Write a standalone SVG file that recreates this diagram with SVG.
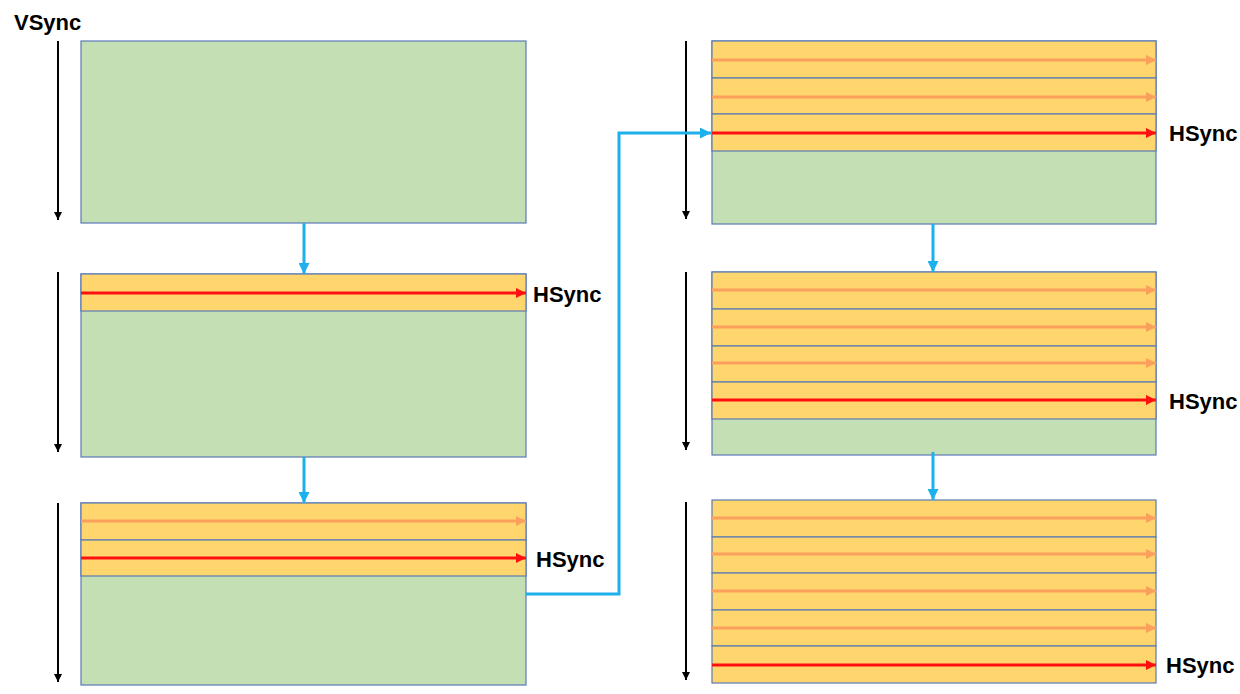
<svg xmlns="http://www.w3.org/2000/svg" width="1240" height="694" viewBox="0 0 1240 694">
<defs>
<style>
.g{fill:#C5DFB4;stroke:#5B7BB5;stroke-width:1.2}
.y{fill:#FED66D;stroke:#5B7BB5;stroke-width:1.2}
.r{stroke:#FF1010;stroke-width:3;fill:none}
.o{stroke:#FBA05C;stroke-width:3;fill:none}
.b{stroke:#1CB0EC;stroke-width:3;fill:none}
.k{stroke:#000;stroke-width:2;fill:none}
.t{font-family:"Liberation Sans",Arial,sans-serif;font-weight:bold;font-size:22px;fill:#000}
</style>
<marker id="mr" markerWidth="10" markerHeight="10" refX="10" refY="5" orient="auto" markerUnits="userSpaceOnUse" viewBox="0 0 10 10"><path d="M0,0 L10,5 L0,10 z" fill="#FF1010"/></marker>
<marker id="mo" markerWidth="10" markerHeight="10" refX="10" refY="5" orient="auto" markerUnits="userSpaceOnUse" viewBox="0 0 10 10"><path d="M0,0 L10,5 L0,10 z" fill="#FBA05C"/></marker>
<marker id="mb" markerWidth="11" markerHeight="11" refX="10" refY="5" orient="auto" markerUnits="userSpaceOnUse" viewBox="0 0 10 10"><path d="M0,0 L10,5 L0,10 z" fill="#1CB0EC"/></marker>
<marker id="mk" markerWidth="8" markerHeight="9" refX="10" refY="5" orient="auto" markerUnits="userSpaceOnUse" viewBox="0 0 10 10"><path d="M0,0 L10,5 L0,10 z" fill="#000"/></marker>
</defs>

<text class="t" x="14" y="30">VSync</text>

<g id="panel1">
<rect class="g" x="81" y="41" width="445" height="182"/>
<line class="k" x1="58" y1="41" x2="58" y2="220" marker-end="url(#mk)"/>
</g>

<g id="panel2">
<rect class="g" x="81" y="274" width="445" height="183"/>
<rect class="y" x="81" y="274" width="445" height="37"/>
<line class="r" x1="81" y1="293" x2="526" y2="293" marker-end="url(#mr)"/>
<line class="k" x1="58" y1="272" x2="58" y2="452" marker-end="url(#mk)"/>
<text class="t" x="533" y="302">HSync</text>
</g>

<g id="panel3">
<rect class="g" x="81" y="503" width="445" height="182"/>
<rect class="y" x="81" y="503" width="445" height="37"/>
<rect class="y" x="81" y="540" width="445" height="36"/>
<line class="o" x1="81" y1="521" x2="526" y2="521" marker-end="url(#mo)"/>
<line class="r" x1="81" y1="558" x2="526" y2="558" marker-end="url(#mr)"/>
<line class="k" x1="58" y1="503" x2="58" y2="682" marker-end="url(#mk)"/>
<text class="t" x="536" y="567">HSync</text>
</g>

<g id="panel4">
<rect class="g" x="712" y="41" width="444" height="183"/>
<rect class="y" x="712" y="41" width="444" height="37"/>
<rect class="y" x="712" y="78" width="444" height="36"/>
<rect class="y" x="712" y="114" width="444" height="37"/>
<line class="o" x1="712" y1="60" x2="1156" y2="60" marker-end="url(#mo)"/>
<line class="o" x1="712" y1="97" x2="1156" y2="97" marker-end="url(#mo)"/>
<line class="r" x1="712" y1="133" x2="1156" y2="133" marker-end="url(#mr)"/>
<line class="k" x1="686" y1="41" x2="686" y2="219" marker-end="url(#mk)"/>
<text class="t" x="1169" y="141">HSync</text>
</g>

<g id="panel5">
<rect class="g" x="712" y="272" width="444" height="183"/>
<rect class="y" x="712" y="272" width="444" height="37"/>
<rect class="y" x="712" y="309" width="444" height="37"/>
<rect class="y" x="712" y="346" width="444" height="36"/>
<rect class="y" x="712" y="382" width="444" height="37"/>
<line class="o" x1="712" y1="290" x2="1156" y2="290" marker-end="url(#mo)"/>
<line class="o" x1="712" y1="327" x2="1156" y2="327" marker-end="url(#mo)"/>
<line class="o" x1="712" y1="363" x2="1156" y2="363" marker-end="url(#mo)"/>
<line class="r" x1="712" y1="400" x2="1156" y2="400" marker-end="url(#mr)"/>
<line class="k" x1="686" y1="272" x2="686" y2="450" marker-end="url(#mk)"/>
<text class="t" x="1169" y="409">HSync</text>
</g>

<g id="panel6">
<rect class="y" x="712" y="500" width="444" height="37"/>
<rect class="y" x="712" y="537" width="444" height="36"/>
<rect class="y" x="712" y="573" width="444" height="37"/>
<rect class="y" x="712" y="610" width="444" height="36"/>
<rect class="y" x="712" y="646" width="444" height="37"/>
<line class="o" x1="712" y1="518" x2="1156" y2="518" marker-end="url(#mo)"/>
<line class="o" x1="712" y1="554" x2="1156" y2="554" marker-end="url(#mo)"/>
<line class="o" x1="712" y1="591" x2="1156" y2="591" marker-end="url(#mo)"/>
<line class="o" x1="712" y1="628" x2="1156" y2="628" marker-end="url(#mo)"/>
<line class="r" x1="712" y1="665" x2="1156" y2="665" marker-end="url(#mr)"/>
<line class="k" x1="686" y1="502" x2="686" y2="680" marker-end="url(#mk)"/>
<text class="t" x="1166" y="673">HSync</text>
</g>

<g id="connectors">
<line class="b" x1="304" y1="223" x2="304" y2="274" marker-end="url(#mb)"/>
<line class="b" x1="304" y1="457" x2="304" y2="503" marker-end="url(#mb)"/>
<polyline class="b" points="526,594 619,594 619,133 711,133" marker-end="url(#mb)"/>
<line class="b" x1="933" y1="224" x2="933" y2="272" marker-end="url(#mb)"/>
<line class="b" x1="933" y1="452" x2="933" y2="500" marker-end="url(#mb)"/>
</g>
</svg>
